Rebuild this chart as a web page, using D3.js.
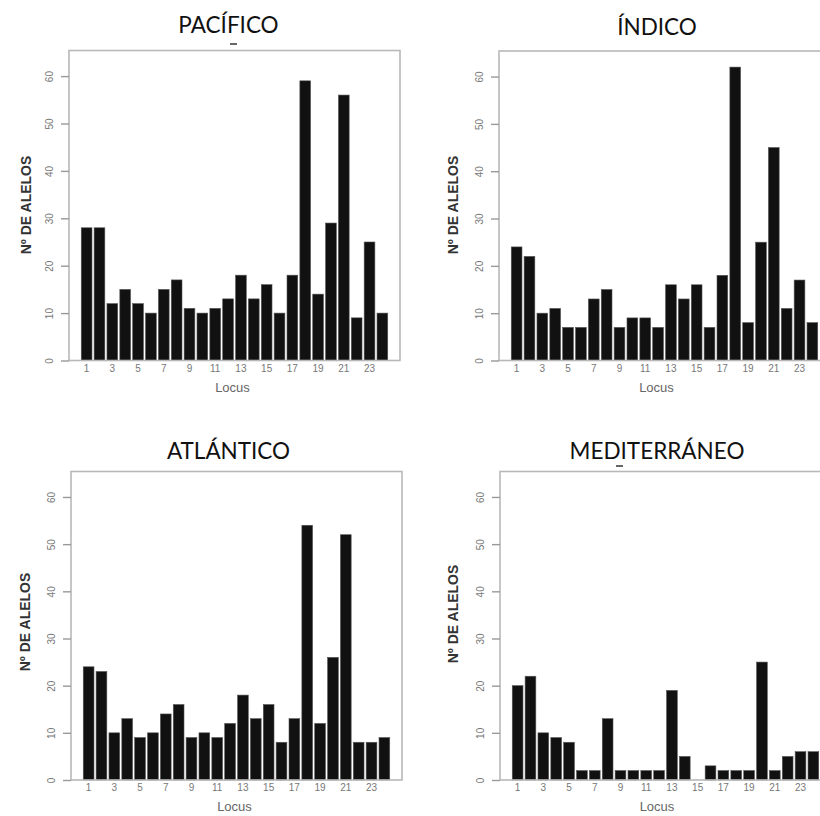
<!DOCTYPE html>
<html>
<head>
<meta charset="utf-8">
<script src="https://cdn.jsdelivr.net/npm/d3@7"></script>
<style>
  html, body { margin: 0; padding: 0; background: #fff; }
  svg { display: block; }
</style>
</head>
<body>
<svg id="chart" width="820" height="816"></svg>
<script>
// ---- data ----
const loci = d3.range(1, 25);
const xTickLabels = [1, 3, 5, 7, 9, 11, 13, 15, 17, 19, 21, 23];
const yTicks = [0, 10, 20, 30, 40, 50, 60];
const titles = ["PACÍFICO", "ÍNDICO", "ATLÁNTICO", "MEDITERRÁNEO"];
const pacifico     = [28, 28, 12, 15, 12, 10, 15, 17, 11, 10, 11, 13, 18, 13, 16, 10, 18, 59, 14, 29, 56, 9, 25, 10];
const indico       = [24, 22, 10, 11, 7, 7, 13, 15, 7, 9, 9, 7, 16, 13, 16, 7, 18, 62, 8, 25, 45, 11, 17, 8];
const atlantico    = [24, 23, 10, 13, 9, 10, 14, 16, 9, 10, 9, 12, 18, 13, 16, 8, 13, 54, 12, 26, 52, 8, 8, 9];
const mediterraneo = [20, 22, 10, 9, 8, 2, 2, 13, 2, 2, 2, 2, 19, 5, 0, 3, 2, 2, 2, 25, 2, 5, 6, 6];
const yLabel = "Nº DE ALELOS";
const xLabel = "Locus";

// ---- layout ----
const panels = [
  { title: titles[0], values: pacifico,     left: 69,  top: 50.5,  bottom: 360.5, titleY: 33,  yLabY: 205, yLabX: 26,  dash: [230, 237, 44] },
  { title: titles[1], values: indico,       left: 499, top: 51,    bottom: 360.5, titleY: 35,  yLabY: 205, yLabX: 453 },
  { title: titles[2], values: atlantico,    left: 71,  top: 471.5, bottom: 780,   titleY: 459, yLabY: 622, yLabX: 25 },
  { title: titles[3], values: mediterraneo, left: 500, top: 471.5, bottom: 780,   titleY: 459, yLabY: 614, yLabX: 453, dash: [616, 623, 466] }
];
const frameW = 331;
const yMax = 65.4;

const svg = d3.select("#chart");

panels.forEach(p => {
  const right = p.left + frameW;
  const g = svg.append("g");
  // R-style unit coordinate system for barplot (space = 0.2)
  const xu = d3.scaleLinear().domain([-0.944, 29.944]).range([p.left, right]);
  const x = d3.scaleBand().domain(loci).range([xu(0), xu(29)]).paddingInner(1/6).paddingOuter(1/6);
  const y = d3.scaleLinear().domain([0, yMax]).range([p.bottom, p.top]);

  // bars
  g.selectAll("rect.bar").data(p.values).join("rect")
    .attr("class", "bar")
    .attr("x", (d, i) => x(loci[i]))
    .attr("width", x.bandwidth())
    .attr("y", d => y(d))
    .attr("height", d => y(0) - y(d))
    .attr("fill", "#111")
    .attr("stroke", "#555")
    .attr("stroke-width", 0.6);

  // frame
  g.append("rect")
    .attr("x", p.left).attr("y", p.top)
    .attr("width", frameW).attr("height", p.bottom - p.top)
    .attr("fill", "none").attr("stroke", "#b8b8b8").attr("stroke-width", 1.6);

  // y axis
  const ya = g.append("g").attr("transform", `translate(${p.left},0)`)
    .call(d3.axisLeft(y).tickValues(yTicks).tickSize(8).tickPadding(0));
  ya.select(".domain").remove();
  ya.selectAll(".tick line").attr("stroke", "#999").attr("stroke-width", 1.4);
  ya.selectAll(".tick text")
    .attr("x", 0).attr("dy", null)
    .attr("transform", "translate(-20,0) rotate(-90)")
    .attr("text-anchor", "middle")
    .attr("dominant-baseline", "central")
    .attr("fill", "#777")
    .style("font-family", "Liberation Sans, Arial, sans-serif")
    .style("font-size", "10px");

  // x axis
  const xa = g.append("g").attr("transform", `translate(0,${p.bottom})`)
    .call(d3.axisBottom(x).tickValues(xTickLabels).tickSize(0).tickPadding(4));
  xa.select(".domain").remove();
  xa.selectAll(".tick text")
    .attr("fill", "#777")
    .style("font-family", "Liberation Sans, Arial, sans-serif")
    .style("font-size", "10px");

  // axis titles
  g.append("text")
    .attr("x", (p.left + Math.min(right, 820)) / 2 + (p.left > 400 ? -3 : -2))
    .attr("y", p.bottom + 31)
    .attr("text-anchor", "middle")
    .attr("fill", "#666")
    .style("font-family", "Liberation Sans, Arial, sans-serif")
    .style("font-size", "13px")
    .text(xLabel);

  g.append("text")
    .attr("transform", `translate(${p.yLabX},${p.yLabY}) rotate(-90)`)
    .attr("text-anchor", "middle")
    .attr("dominant-baseline", "central")
    .attr("fill", "#333")
    .style("font-family", "Liberation Sans, Arial, sans-serif")
    .style("font-weight", "bold")
    .style("font-size", "14px")
    .text(yLabel);

  // panel title
  g.append("text")
    .attr("x", p.left > 400 ? 657 : 228.5)
    .attr("y", p.titleY)
    .attr("text-anchor", "middle")
    .attr("fill", "#111")
    .style("font-family", "Lato, 'Open Sans', sans-serif")
    .style("font-size", "22.5px")
    .text(p.title);

  if (p.dash) {
    g.append("line")
      .attr("x1", p.dash[0]).attr("x2", p.dash[1])
      .attr("y1", p.dash[2]).attr("y2", p.dash[2])
      .attr("stroke", "#333").attr("stroke-width", 1.5);
  }
});
</script>
</body>
</html>
